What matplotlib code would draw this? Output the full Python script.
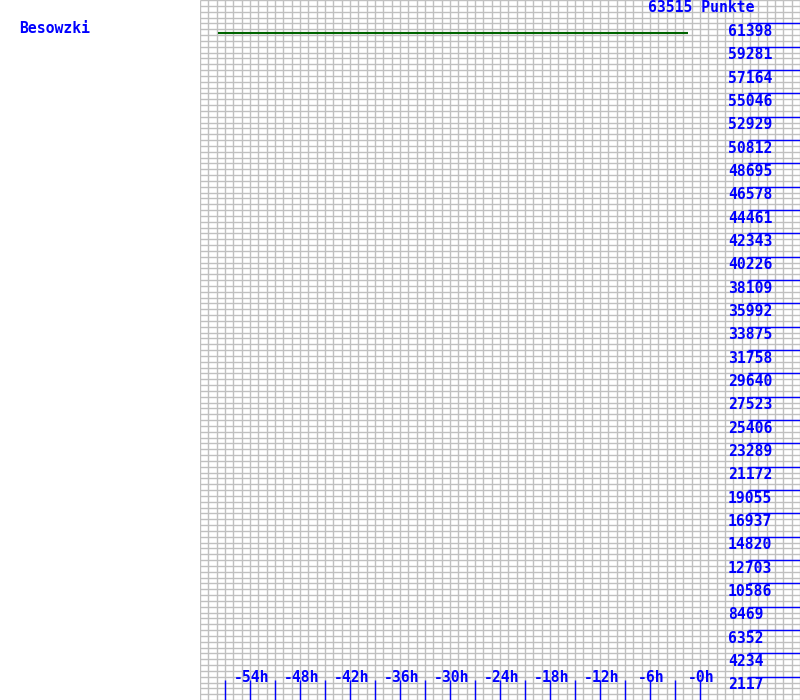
import matplotlib
matplotlib.use("Agg")
import matplotlib.pyplot as plt

# Punkte-Verlauf (Stunden relativ zu jetzt)
hours = [-57.8, -1.4]
punkte = [60520, 60520]

name = "Besowzki"
y_max = 63515
y_labels = ["2117", "4234", "6352", "8469", "10586", "12703", "14820", "16937",
            "19055", "21172", "23289", "25406", "27523", "29640", "31758", "33875",
            "35992", "38109", "40226", "42343", "44461", "46578", "48695", "50812",
            "52929", "55046", "57164", "59281", "61398"]
x_labels = ["-54h", "-48h", "-42h", "-36h", "-30h", "-24h", "-18h", "-12h", "-6h", "-0h"]
x_label_pos = [-54, -48, -42, -36, -30, -24, -18, -12, -6, 0]

blue = "#0000ff"
grid_col = "#c0c0c0"
font = "DejaVu Sans Mono"
fs = 10.6
px = y_max / 700  # value per pixel (vertical)

fig = plt.figure(figsize=(8, 7), dpi=100)
ax = fig.add_axes([0.25, 0, 0.75, 1])
ax.set_xlim(-60, 12)
ax.set_ylim(0, y_max)
ax.axis("off")

# grid: 1h vertical, quarter of a label step horizontal
step = y_max / 30
ax.vlines(range(-60, 13), 0, y_max, color=grid_col, lw=1, zorder=1)
ax.hlines([i * step / 4 for i in range(121)], -60, 12, color=grid_col, lw=1, zorder=1)

# right axis labels + tick lines
for i, lab in enumerate(y_labels):
    v = (i + 1) * step
    ax.hlines(v, 5.76, 12, color=blue, lw=1, zorder=3)
    ax.text(3.36, v - 12.7 * px, lab, color=blue, fontsize=fs, family=font,
            weight="bold", ha="left", va="baseline", zorder=4)

ax.text(-6.24, y_max - 11.8 * px, f"{y_max} Punkte", color=blue, fontsize=fs,
        family=font, weight="bold", ha="left", va="baseline", zorder=4)

# bottom ticks every 3h
ax.vlines(range(-57, 1, 3), 0, 20 * px, color=blue, lw=1, zorder=3)
for xp, lab in zip(x_label_pos, x_labels):
    ax.text(xp + 0.2, 18 * px, lab, color=blue, fontsize=fs, family=font,
            weight="bold", ha="center", va="baseline", zorder=4)

ax.plot(hours, punkte, color="#006400", lw=1.5, zorder=5, solid_capstyle="butt")

fig.text(19 / 800, 1 - 32.7 / 700, name, color=blue, fontsize=fs, family=font,
         weight="bold", ha="left", va="baseline")

fig.savefig("out.png", dpi=100, facecolor="white")
